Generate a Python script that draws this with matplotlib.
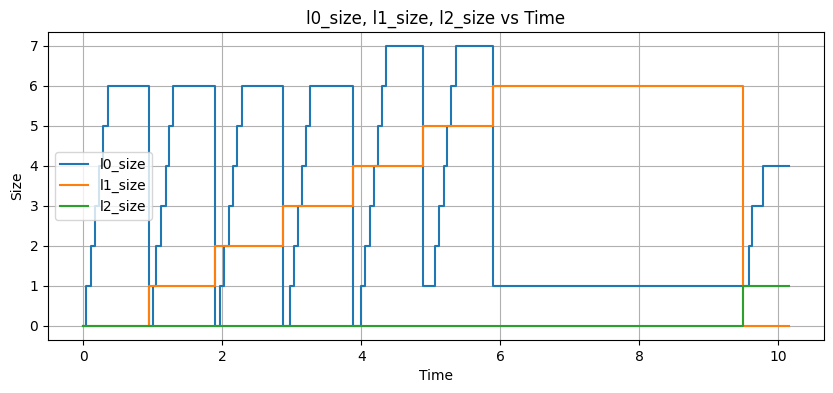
import matplotlib
matplotlib.use("Agg")
import matplotlib.pyplot as plt

l0_time = [0.0, 0.043, 0.11, 0.17, 0.23, 0.29, 0.35, 0.94,
           1.00, 1.05, 1.12, 1.19, 1.24, 1.29, 1.89,
           1.97, 2.03, 2.10, 2.15, 2.21, 2.28, 2.87,
           2.97, 3.04, 3.09, 3.15, 3.21, 3.27, 3.875,
           3.995, 4.06, 4.12, 4.18, 4.24, 4.30, 4.355, 4.89,
           5.06, 5.12, 5.185, 5.24, 5.295, 5.36, 5.90,
           9.58, 9.63, 9.775, 10.15]
l0_size = [0, 1, 2, 3, 4, 5, 6, 0,
           1, 2, 3, 4, 5, 6, 0,
           1, 2, 3, 4, 5, 6, 0,
           1, 2, 3, 4, 5, 6, 0,
           1, 2, 3, 4, 5, 6, 7, 1,
           2, 3, 4, 5, 6, 7, 1,
           2, 3, 4, 4]

l1_time = [0.0, 0.94, 1.89, 2.87, 3.875, 4.89, 5.90, 9.49, 10.15]
l1_size = [0, 1, 2, 3, 4, 5, 6, 0, 0]

l2_time = [0.0, 9.49, 10.15]
l2_size = [0, 1, 1]

fig = plt.figure(figsize=(8.33, 3.93), dpi=100)
ax = fig.add_subplot(111)
fig.subplots_adjust(left=0.0576, right=0.989, top=0.9186, bottom=0.135)

ax.plot(l0_time, l0_size, drawstyle='steps-post', label='l0_size')
ax.plot(l1_time, l1_size, drawstyle='steps-post', label='l1_size')
ax.plot(l2_time, l2_size, drawstyle='steps-post', label='l2_size')

ax.set_title('l0_size, l1_size, l2_size vs Time')
ax.set_xlabel('Time')
ax.set_ylabel('Size')
ax.grid(True)
ax.legend(loc='center left')

fig.savefig('out.png', dpi=100)
